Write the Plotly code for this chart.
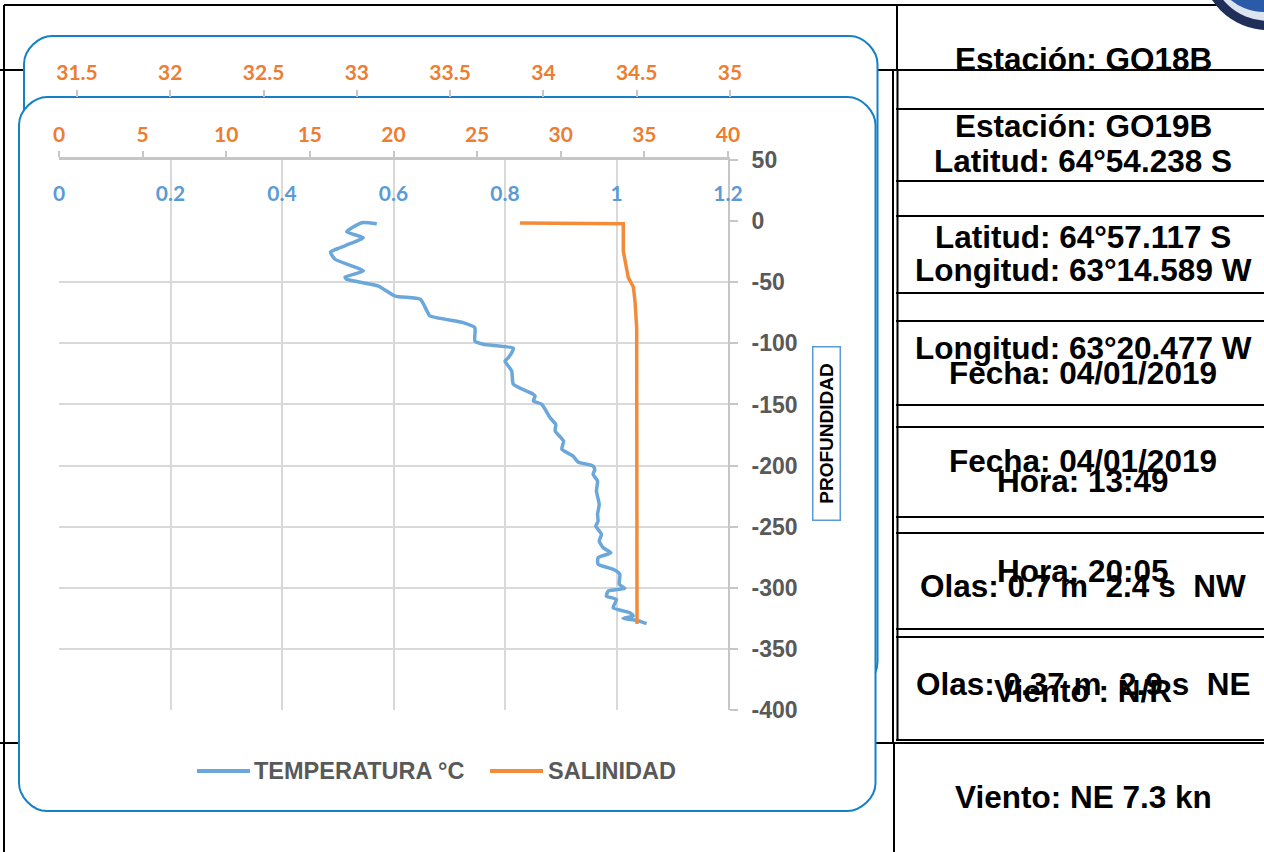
import plotly.graph_objects as go

W, H = 1264, 852

# ---- CTD profile, station GO19B ----
depth_temp = [-2.1, -1.3, -8.7, -13.6, -18.5, -21.8, -25.3, -31.2, -40.8, -45.7, -47.6,
              -53.1, -61.3, -64.0, -73.5, -77.6, -83.1, -87.2, -98.1, -100.8, -104.1,
              -111.8, -114.5, -122.6, -133.5, -141.7, -143.1, -147.2, -149.9, -160.9,
              -166.3, -171.7, -179.9, -186.7, -192.2, -197.1, -200.4, -203.1, -207.2,
              -212.6, -220.8, -231.7, -239.9, -245.4, -249.5, -256.2, -261.7, -267.2,
              -271.3, -275.4, -280.8, -284.9, -289.0, -297.2, -300.5, -302.7, -306.8,
              -309.5, -316.3, -320.4, -323.1, -325.0, -326.6, -329.4]
temperature = [0.570, 0.543, 0.516, 0.546, 0.522, 0.504, 0.487, 0.495, 0.546, 0.513, 0.516,
               0.573, 0.603, 0.648, 0.660, 0.665, 0.725, 0.746, 0.746, 0.761, 0.815,
               0.806, 0.800, 0.812, 0.815, 0.851, 0.854, 0.851, 0.866, 0.881,
               0.891, 0.890, 0.905, 0.902, 0.922, 0.931, 0.958, 0.961, 0.958,
               0.966, 0.964, 0.969, 0.966, 0.967, 0.963, 0.973, 0.969, 0.976,
               0.990, 0.967, 0.967, 0.994, 1.006, 1.005, 1.015, 0.985, 0.982,
               1.000, 0.994, 1.024, 1.030, 1.012, 1.036, 1.054]

depth_sal = [-1.5, -2.1, -24.5, -40.8, -46.3, -53.9, -65.4, -87.2, -147.2, -240.0, -329.6]
salinity = [27.56, 33.74, 33.74, 33.94, 34.04, 34.34, 34.44, 34.54, 34.54, 34.55, 34.56]

temp_ticks = [0, 0.2, 0.4, 0.6, 0.8, 1, 1.2]
sal_ticks = [0, 5, 10, 15, 20, 25, 30, 35, 40]
prev_sal_ticks = [31.5, 32, 32.5, 33, 33.5, 34, 34.5, 35]
depth_ticks = [50, 0, -50, -100, -150, -200, -250, -300, -350, -400]
depth_grid = [-50, -100, -150, -200, -250, -300, -350, -400]

# ---- station sheets (text, vertical centre in px) ----
table_text = [
    ("Estación: GO18B", 59),
    ("Estación: GO19B", 126),
    ("Latitud: 64°54.238 S", 161),
    ("Latitud: 64°57.117 S", 237),
    ("Longitud: 63°14.589 W", 270),
    ("Longitud: 63°20.477 W", 348),
    ("Fecha: 04/01/2019", 373),
    ("Fecha: 04/01/2019", 461),
    ("Hora: 13:49", 481),
    ("Hora: 20:05", 571),
    ("Olas: 0.7 m\u00a0\u00a02.4 s\u00a0\u00a0NW", 586),
    ("Olas: 0.37 m\u00a0\u00a02.9 s\u00a0\u00a0NE", 684),
    ("Viento : N/R", 691),
    ("Viento: NE 7.3 kn", 797),
]

BLUE = "#5B9BD5"
BLUE_LINE = "#6BA7DB"
ORANGE = "#ED7D31"
ORANGE_LINE = "#F28C3A"
GRID = "#D9D9D9"
AXIS = "#C6C6C6"
GREY_TXT = "#595959"
FRAME = "#1580C6"


def fx(x):
    return x / W


def fy(y):
    return 1 - y / H


def rrect(x0, y0, x1, y1, r):
    rx, ry = r / W, r / H
    X0, X1, Y0, Y1 = fx(x0), fx(x1), fy(y0), fy(y1)
    k = 0.45
    return (f"M{X0+rx},{Y0} L{X1-rx},{Y0} C{X1-rx*k},{Y0} {X1},{Y0-ry*(1-k)} {X1},{Y0-ry} "
            f"L{X1},{Y1+ry} C{X1},{Y1+ry*k} {X1-rx*(1-k)},{Y1} {X1-rx},{Y1} "
            f"L{X0+rx},{Y1} C{X0+rx*k},{Y1} {X0},{Y1+ry*(1-k)} {X0},{Y1+ry} "
            f"L{X0},{Y0-ry} C{X0},{Y0-ry*k} {X0+rx*(1-k)},{Y0} {X0+rx},{Y0} Z")


def hline(x0, x1, y, w=2):
    return dict(type="line", xref="paper", yref="paper", layer="below",
                x0=fx(x0), x1=fx(x1), y0=fy(y), y1=fy(y),
                line=dict(color="black", width=w))


def vline(x, y0, y1, w=2):
    return dict(type="line", xref="paper", yref="paper", layer="below",
                x0=fx(x), x1=fx(x), y0=fy(y0), y1=fy(y1),
                line=dict(color="black", width=w))


def circle(cx, cy, r, color):
    return dict(type="circle", xref="paper", yref="paper", layer="below",
                x0=fx(cx - r), x1=fx(cx + r), y0=fy(cy + r), y1=fy(cy - r),
                fillcolor=color, line=dict(width=0))


shapes = []
# sheet grid lines
shapes.append(hline(4, W, 5))
shapes.append(hline(0, W, 70))
for y in [109, 181, 216, 293, 321, 405, 427, 517, 533, 629, 637, 740]:
    shapes.append(hline(896, W, y))
shapes.append(hline(0, W, 743))
shapes.append(vline(4, 5, H))
shapes.append(vline(897, 5, 70))
shapes.append(vline(893, 70, 743))
shapes.append(vline(897.5, 70, 741))
shapes.append(vline(894, 743, H))

# emblem in the top-right corner
shapes.append(circle(1268, -37, 67, "#1F2F5A"))
shapes.append(circle(1268, -37, 58, "#DCE4EF"))
shapes.append(circle(1264, -40, 52, "#2A5BA8"))
shapes.append(circle(1264, -48, 46, "#C9302C"))

# chart frames (previous sheet behind, current sheet in front)
shapes.append(dict(type="path", xref="paper", yref="paper", layer="below",
                   path=rrect(24, 36, 877.5, 690, 28), fillcolor="white",
                   line=dict(color=FRAME, width=2)))
shapes.append(dict(type="path", xref="paper", yref="paper", layer="below",
                   path=rrect(19, 97, 875.5, 811, 28), fillcolor="white",
                   line=dict(color=FRAME, width=2)))

# legend swatches
shapes.append(dict(type="line", xref="paper", yref="paper", x0=fx(197), x1=fx(250),
                   y0=fy(771), y1=fy(771), line=dict(color=BLUE_LINE, width=4)))
shapes.append(dict(type="line", xref="paper", yref="paper", x0=fx(490), x1=fx(543),
                   y0=fy(771), y1=fy(771), line=dict(color=ORANGE_LINE, width=4)))

annotations = []
for txt, yc in table_text:
    annotations.append(dict(text=txt, xref="paper", yref="paper", x=fx(1083), y=fy(yc),
                            xanchor="center", yanchor="middle", showarrow=False,
                            font=dict(family="Liberation Sans", size=31.5, color="black",
                                      weight="bold")))

legend_font = dict(family="Liberation Sans", size=23.5, color=GREY_TXT, weight="bold")
annotations.append(dict(text="TEMPERATURA °C", xref="paper", yref="paper", x=fx(252),
                        y=fy(771), xanchor="left", yanchor="middle", showarrow=False,
                        font=legend_font))
annotations.append(dict(text="SALINIDAD", xref="paper", yref="paper", x=fx(546),
                        y=fy(771), xanchor="left", yanchor="middle", showarrow=False,
                        font=legend_font))
annotations.append(dict(text="PROFUNDIDAD", xref="paper", yref="paper", x=fx(826),
                        y=fy(434), xanchor="center", yanchor="middle", showarrow=False,
                        textangle=-90, width=170, height=24, borderpad=1,
                        bordercolor=BLUE, borderwidth=1.5,
                        font=dict(family="Liberation Sans", size=19, color="black",
                                  weight="bold")))

fig = go.Figure()
fig.add_trace(go.Scatter(x=temperature, y=depth_temp, xaxis="x", yaxis="y", mode="lines",
                         name="TEMPERATURA °C",
                         line=dict(color=BLUE_LINE, width=3.5, shape="spline", smoothing=0.5)))
fig.add_trace(go.Scatter(x=salinity, y=depth_sal, xaxis="x2", yaxis="y2", mode="lines",
                         name="SALINIDAD",
                         line=dict(color=ORANGE_LINE, width=3.5)))
fig.add_trace(go.Scatter(x=[], y=[], xaxis="x3", yaxis="y", mode="lines",
                         showlegend=False, hoverinfo="skip"))

dom_x = [fx(59), fx(728)]
dom_y = [fy(710), fy(160)]
tick_font_num = dict(family="Lato", size=21, weight="bold")

fig.update_layout(
    width=W, height=H, autosize=False,
    margin=dict(l=0, r=0, t=0, b=0, autoexpand=False),
    paper_bgcolor="white", plot_bgcolor="rgba(0,0,0,0)",
    showlegend=False,
    xaxis=dict(domain=dom_x, range=[0, 1.2], tickvals=temp_ticks,
               ticktext=[f"{v:g}" for v in temp_ticks], automargin=False,
               side="top", anchor="y", ticklabelposition="inside",
               ticklabeloverflow="allow", ticklabelstandoff=23, ticks="",
               showgrid=True, gridcolor=GRID, gridwidth=1.5, zeroline=False,
               showline=False, tickfont=dict(color=BLUE, **tick_font_num)),
    xaxis2=dict(domain=dom_x, range=[0, 40], tickvals=sal_ticks, automargin=False,
                side="top", anchor="y2", overlaying="x", ticks="outside", ticklen=6,
                tickcolor=AXIS, tickwidth=1.5, showline=True, linecolor=AXIS, linewidth=2.5,
                showgrid=False, zeroline=False, ticklabelstandoff=1,
                tickfont=dict(color=ORANGE, **tick_font_num)),
    xaxis3=dict(domain=[fx(77), fx(730)], range=[31.5, 35], tickvals=prev_sal_ticks,
                automargin=False,
                side="top", anchor="free", position=fy(97), ticks="outside", ticklen=7,
                tickcolor=AXIS, tickwidth=1.5, showline=False, showgrid=False,
                zeroline=False, ticklabelstandoff=2,
                tickfont=dict(color=ORANGE, **tick_font_num)),
    yaxis=dict(domain=dom_y, range=[-400, 50], tickvals=depth_ticks,
               ticktext=[str(v) for v in depth_ticks], side="right",
               automargin=False,
               anchor="x", showgrid=False, zeroline=False, showline=True, linecolor=AXIS,
               linewidth=2, ticks="outside", ticklen=8, tickcolor=AXIS, tickwidth=1.5,
               ticklabelstandoff=9,
               tickfont=dict(family="Liberation Sans", size=23, color=GREY_TXT,
                             weight="bold")),
    yaxis2=dict(domain=dom_y, range=[-400, 50], tickvals=depth_grid, overlaying="y",
                automargin=False,
                side="right", anchor="x2", showgrid=True, gridcolor=GRID, gridwidth=1.5,
                showticklabels=False, ticks="", zeroline=False, showline=False),
    shapes=shapes,
    annotations=annotations,
)

fig.write_html("out.html")
